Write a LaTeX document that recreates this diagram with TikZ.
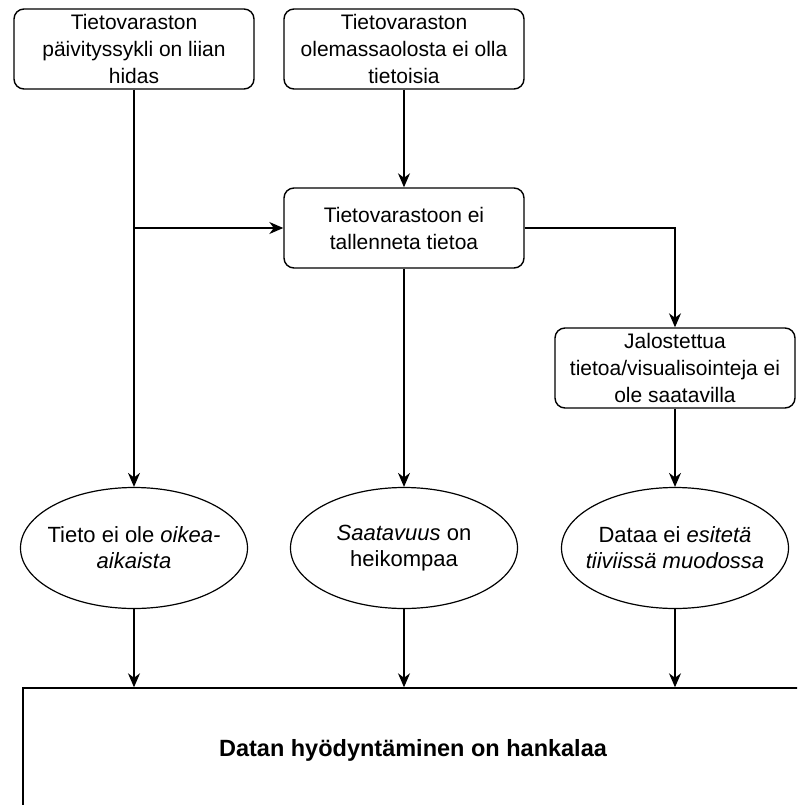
\documentclass[tikz,border=0pt]{standalone}
\usepackage{fontspec}
\setmainfont{Liberation Sans}
\usepackage{tikz}
\usetikzlibrary{arrows.meta}
\usetikzlibrary{shapes.geometric}

\begin{document}
\begin{tikzpicture}[x=1pt,y=-1pt,>={Stealth[length=14pt,width=12pt,inset=4.5pt]},line width=1.4pt,node distance=270pt,
  cause node/.style={rectangle,rounded corners=10pt,draw,align=center,minimum width=240pt,minimum height=80pt,inner sep=2pt,font=\fontsize{21}{27}\selectfont},
  effect node/.style={ellipse,draw,line width=1.2pt,align=center,minimum width=227pt,minimum height=121pt,inner xsep=-14pt,inner ysep=0pt,font=\fontsize{22}{26}\selectfont}]

  \useasboundingbox (0,0) rectangle (797,805);
  \clip (0,0) rectangle (797,805);

  \node[cause node] (slow) at (134,49) {Tietovaraston\\päivityssykli on liian\\hidas};
  \node[cause node] (unaware) [right of=slow] {Tietovaraston\\olemassaolosta ei olla\\tietoisia};
  \node[cause node] (notstored) [below of=unaware, node distance=179pt] {Tietovarastoon ei\\tallenneta tietoa};
  \node[cause node] (refined) at (675,368) {Jalostettua\\tietoa/visualisointeja ei\\ole saatavilla};

  \node[effect node] (e2) [below of=notstored, node distance=320pt] {\textit{Saatavuus} on\\heikompaa};
  \node[effect node] (e1) [left of=e2] {Tieto ei ole \textit{oikea-}\\\textit{aikaista}};
  \node[effect node] (e3) [right of=e2, node distance=271pt] {Dataa ei \textit{esitetä}\\\textit{tiiviissä muodossa}};

  \node[draw,minimum width=780pt,minimum height=124pt,font=\fontsize{23.5}{28}\selectfont\bfseries] (use) at (413,750) {Datan hyödyntäminen on hankalaa};

  \coordinate (fork) at (slow |- notstored);

  \draw[->] (slow) -- (e1);
  \draw[->] (fork) -- (notstored);
  \draw[->] (unaware) -- (notstored);
  \draw[->] (notstored) -- (e2);
  \draw[->] (notstored.east) -| (refined.north);
  \draw[->] (refined) -- (e3);
  \draw[->] (e1) -- (e1 |- use.north);
  \draw[->] (e2) -- (e2 |- use.north);
  \draw[->] (e3) -- (e3 |- use.north);

\end{tikzpicture}
\end{document}
